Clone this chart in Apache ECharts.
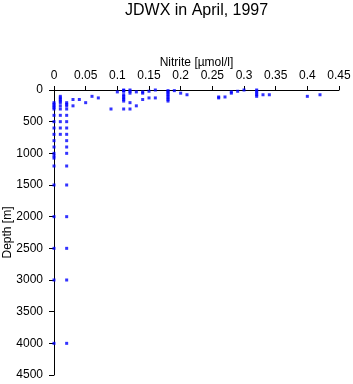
<!DOCTYPE html>
<html>
<head>
<meta charset="utf-8">
<script src="https://cdn.jsdelivr.net/npm/echarts@6/dist/echarts.min.js"></script>
<style>
  html, body { margin: 0; padding: 0; background: #fff; }
  #main { width: 353px; height: 384px; }
</style>
</head>
<body>
<div id="main"></div>
<script>
// nitrite values (umol/l) and the sample depths (m) found at each of them
var nitriteLevels = [0, 0.01, 0.02, 0.03, 0.04, 0.05, 0.06, 0.07, 0.09, 0.10,
  0.11, 0.12, 0.13, 0.14, 0.15, 0.16, 0.18, 0.19, 0.20, 0.21,
  0.26, 0.27, 0.28, 0.29, 0.30, 0.32, 0.33, 0.34, 0.40, 0.42];

var depthsAtLevel = [
  [200, 225, 250, 275, 300, 400, 500, 600, 700, 800, 900, 1000, 1040, 1075, 1200, 1500, 2000, 2500, 3000, 4000],
  [100, 125, 150, 175, 200, 250, 300, 400, 500, 600, 700],
  [200, 225, 250, 300, 400, 500, 600, 700, 800, 900, 1000, 1200, 1500, 2000, 2500, 3000, 4000],
  [150, 250],
  [150],
  [200],
  [100],
  [125],
  [300],
  [30],
  [0, 10, 20, 75, 100, 125, 150, 175, 300],
  [0, 20, 50, 200, 300],
  [30, 250],
  [30, 50, 150],
  [20, 125],
  [0, 125],
  [10, 30, 50, 75, 100, 125, 150, 175],
  [10],
  [50],
  [75],
  [110, 125],
  [110],
  [30, 50],
  [20],
  [0],
  [0, 20, 50, 75, 100],
  [75],
  [75],
  [100],
  [75]
];

var titleText = 'JDWX in April, 1997';
var xName = 'Nitrite [\u00b5mol/l]';
var yName = 'Depth [m]';

var points = [];
nitriteLevels.forEach(function (n, i) {
  depthsAtLevel[i].forEach(function (d) {
    points.push([n, d]);
  });
});

var chart = echarts.init(document.getElementById('main'), null, { renderer: 'canvas' });

var font = 'Liberation Sans, Arial, sans-serif';

chart.setOption({
  animation: false,
  backgroundColor: '#fff',
  title: {
    text: titleText,
    left: 120,
    top: -2,
    textStyle: { fontFamily: font, fontSize: 16, fontWeight: 'normal', color: '#000' }
  },
  grid: {
    left: 54,
    right: 14,
    top: 90,
    bottom: 9,
    containLabel: false,
    outerBoundsMode: 'none'
  },
  xAxis: {
    type: 'value',
    position: 'top',
    min: 0,
    max: 0.45,
    interval: 0.05,
    name: xName,
    nameLocation: 'middle',
    nameGap: 21,
    nameMoveOverlap: false,
    nameTextStyle: { fontFamily: font, fontSize: 12, color: '#000' },
    splitLine: { show: false },
    axisLine: { show: true, onZero: false, lineStyle: { color: '#000', width: 1 } },
    axisTick: { show: true, length: 4, lineStyle: { color: '#000' } },
    axisLabel: {
      fontFamily: font, fontSize: 12, color: '#000', margin: 8,
      formatter: function (v) { return String(parseFloat(v.toFixed(2))); }
    }
  },
  yAxis: {
    type: 'value',
    inverse: true,
    min: 0,
    max: 4500,
    interval: 500,
    name: yName,
    nameLocation: 'middle',
    nameGap: 40,
    nameMoveOverlap: false,
    nameTextStyle: { fontFamily: font, fontSize: 12, color: '#000' },
    splitLine: { show: false },
    axisLine: { show: true, onZero: false, lineStyle: { color: '#000', width: 1 } },
    axisTick: { show: true, length: 5, lineStyle: { color: '#000' } },
    axisLabel: {
      fontFamily: font, fontSize: 12, color: '#000', margin: 11,
      formatter: function (v) { return String(v); }
    }
  },
  series: [{
    type: 'scatter',
    data: points,
    symbol: 'rect',
    symbolSize: 3,
    itemStyle: { color: '#0000ff' }
  }]
});
</script>
</body>
</html>
